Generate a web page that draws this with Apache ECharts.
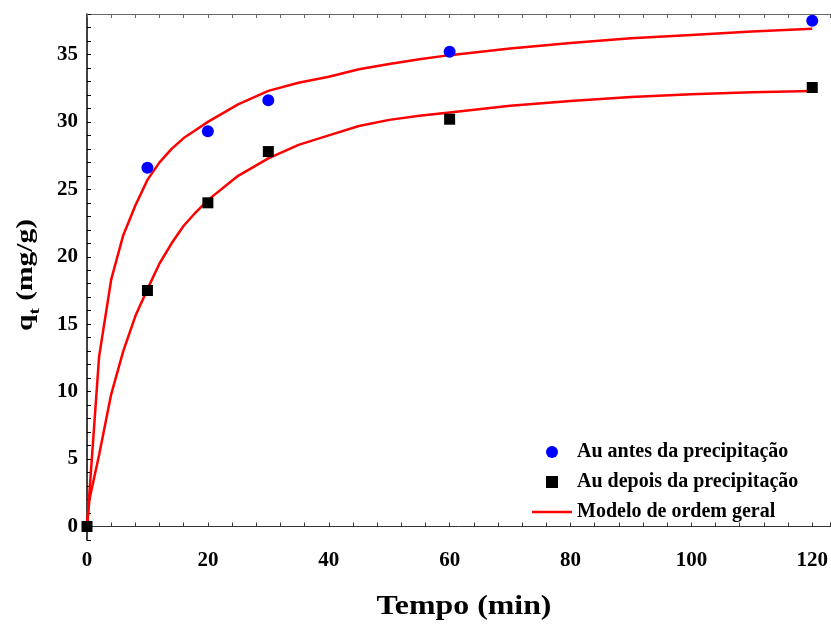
<!DOCTYPE html>
<html>
<head>
<meta charset="utf-8">
<script src="https://cdn.jsdelivr.net/npm/echarts@6/dist/echarts.min.js"></script>
<style>
	html, body { margin: 0; padding: 0; background: #fff; }
	#main { width: 831px; height: 624px; }
</style>
</head>
<body>
<div id="main"></div>
<script>
	//dados experimentais
	var tExp = [10, 20, 30, 60, 120];
	var qAntes = [26.6, 29.3, 31.6, 35.2, 37.5];
	var tDepois = [0, 10, 20, 30, 60, 120];
	var qDepois = [0, 17.5, 24.0, 27.8, 30.2, 32.55];

	//curvas do modelo
	var tModelo = [0, 0.4, 2, 4, 6, 8, 10, 12, 14, 16, 18, 20, 25, 30, 35, 40, 45, 50, 55, 60, 70, 80, 90, 100, 110, 120];
	var modeloAntes = [0, 2.5, 12.6, 18.3, 21.6, 23.8, 25.7, 27.0, 28.0, 28.8, 29.4, 30.0, 31.3, 32.3, 32.9, 33.35, 33.9, 34.3, 34.65, 34.95, 35.45, 35.85, 36.2, 36.45, 36.7, 36.9];
	var modeloDepois = [0, 2.0, 5.3, 9.8, 13.0, 15.6, 17.6, 19.5, 21.0, 22.3, 23.3, 24.2, 26.0, 27.3, 28.3, 29.0, 29.7, 30.15, 30.45, 30.7, 31.2, 31.55, 31.85, 32.05, 32.2, 32.3];

	//rotulos dos eixos
	var xLabels = [0, 20, 40, 60, 80, 100, 120];
	var yLabels = [0, 5, 10, 15, 20, 25, 30, 35];

	var nomes = ['Au antes da precipitação', 'Au depois da precipitação', 'Modelo de ordem geral'];

	function pares(xs, ys) {
		var out = [];
		for (var i = 0; i < xs.length; i++) {
			out.push([xs[i], ys[i]]);
		}
		return out;
	}

	var serif = '"Liberation Serif", "Times New Roman", serif';
	var labelStyle = { fontFamily: serif, fontWeight: 'bold', fontSize: 21, color: '#000' };

	var myChart = echarts.init(document.getElementById('main'));
	var option = {
		backgroundColor: '#fff',
		animation: false,
		grid: { left: 87, right: 0, top: 14, bottom: 84 },
		legend: {
			orient: 'vertical',
			left: 527,
			top: 437,
			itemWidth: 40,
			itemHeight: 12,
			itemGap: 10,
			textStyle: { fontFamily: serif, fontWeight: 'bold', fontSize: 20, color: '#000', lineHeight: 20 },
			data: [
				{ name: nomes[0], icon: 'circle' },
				{ name: nomes[1], icon: 'path://M0,0H10V10H0Z' },
				{ name: nomes[2], icon: 'path://M0,0H40V2.5H0Z' }
			]
		},
		xAxis: [{
			type: 'value',
			position: 'bottom',
			min: 0,
			max: 123,
			interval: 4,
			splitLine: { show: false },
			axisLine: { lineStyle: { color: '#333', width: 1 } },
			axisTick: { inside: true, length: 4, lineStyle: { color: '#333' } },
			axisLabel: Object.assign({ customValues: xLabels, margin: 10 }, labelStyle)
		}, {
			type: 'value',
			position: 'top',
			min: 0,
			max: 123,
			interval: 4,
			splitLine: { show: false },
			axisLine: { lineStyle: { color: '#666', width: 1 } },
			axisTick: { inside: true, length: 4, lineStyle: { color: '#666' } },
			axisLabel: { show: false }
		}],
		yAxis: {
			type: 'value',
			min: -1,
			max: 38,
			interval: 1,
			splitLine: { show: false },
			axisLine: { lineStyle: { color: '#000', width: 1.5 } },
			axisTick: { inside: true, length: 4, lineStyle: { color: '#000' } },
			axisLabel: Object.assign({ customValues: yLabels, margin: 9 }, labelStyle)
		},
		graphic: [{
			type: 'text',
			x: 464,
			y: 607,
			scaleX: 1.18,
			style: {
				text: 'Tempo (min)',
				font: 'bold 27px ' + serif,
				fill: '#000',
				align: 'center',
				verticalAlign: 'middle'
			}
		}, {
			type: 'text',
			x: 29,
			y: 275,
			rotation: Math.PI / 2,
			scaleX: 1.28,
			style: {
				text: '{a|q}{b|t}{a| (mg/g)}',
				fill: '#000',
				align: 'center',
				verticalAlign: 'middle',
				rich: {
					a: { fontFamily: serif, fontWeight: 'bold', fontSize: 23, lineHeight: 28, verticalAlign: 'top' },
					b: { fontFamily: serif, fontWeight: 'bold', fontSize: 15, lineHeight: 17, verticalAlign: 'bottom' }
				}
			}
		}],
		series: [{
			name: nomes[2],
			type: 'line',
			data: pares(tModelo, modeloAntes),
			symbol: 'none',
			lineStyle: { color: '#ff0000', width: 2.5 },
			itemStyle: { color: '#ff0000' },
			z: 2
		}, {
			name: nomes[2],
			type: 'line',
			data: pares(tModelo, modeloDepois),
			symbol: 'none',
			lineStyle: { color: '#ff0000', width: 2.5 },
			itemStyle: { color: '#ff0000' },
			z: 2
		}, {
			name: nomes[0],
			type: 'scatter',
			data: pares(tExp, qAntes),
			symbol: 'circle',
			symbolSize: 12,
			itemStyle: { color: '#0000ff', opacity: 1 },
			z: 3
		}, {
			name: nomes[1],
			type: 'scatter',
			data: pares(tDepois, qDepois),
			symbol: 'rect',
			symbolSize: 11,
			itemStyle: { color: '#000', opacity: 1 },
			z: 4
		}]
	};
	myChart.setOption(option);
</script>
</body>
</html>
